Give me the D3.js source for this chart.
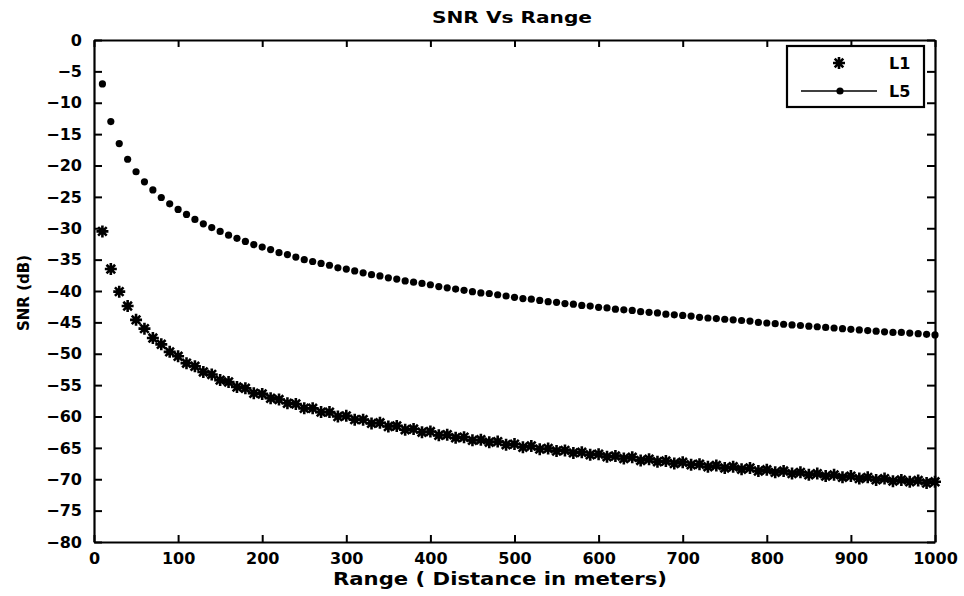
<!DOCTYPE html>
<html>
<head>
<meta charset="utf-8">
<script src="https://cdn.jsdelivr.net/npm/d3@7"></script>
<style>
  body { margin: 0; background: #fff; }
  text { font-family: "DejaVu Sans", sans-serif; font-weight: bold; fill: #000; }
</style>
</head>
<body>
<div id="chart"></div>
<script>
// Data arrays (range in meters, SNR in dB)
let rangeValues = d3.range(10, 1001, 10);

let snrL5 = [
  -7.0, -13.0, -16.5, -19.0, -21.0, -22.6, -23.9, -25.1, -26.1, -27.0,
  -27.8, -28.6, -29.3, -29.9, -30.5, -31.1, -31.6, -32.1, -32.6, -33.0,
  -33.4, -33.9, -34.2, -34.6, -35.0, -35.3, -35.6, -35.9, -36.3, -36.5,
  -36.8, -37.1, -37.4, -37.6, -37.9, -38.1, -38.4, -38.6, -38.8, -39.0,
  -39.3, -39.5, -39.7, -39.9, -40.1, -40.3, -40.4, -40.6, -40.8, -41.0,
  -41.2, -41.3, -41.5, -41.7, -41.8, -42.0, -42.1, -42.3, -42.4, -42.6,
  -42.7, -42.9, -43.0, -43.1, -43.3, -43.4, -43.5, -43.7, -43.8, -43.9,
  -44.0, -44.2, -44.3, -44.4, -44.5, -44.6, -44.7, -44.8, -45.0, -45.1,
  -45.2, -45.3, -45.4, -45.5, -45.6, -45.7, -45.8, -45.9, -46.0, -46.1,
  -46.2, -46.3, -46.4, -46.5, -46.6, -46.6, -46.7, -46.8, -46.9, -47.0
];

let snrL1 = [
  -30.5, -36.5, -40.1, -42.4, -44.6, -46.0, -47.5, -48.5, -49.7, -50.4,
  -51.5, -52.0, -52.9, -53.3, -54.2, -54.5, -55.3, -55.5, -56.3, -56.4,
  -57.1, -57.3, -57.9, -58.0, -58.7, -58.7, -59.3, -59.3, -60.0, -59.9,
  -60.5, -60.5, -61.1, -61.0, -61.6, -61.5, -62.1, -62.0, -62.5, -62.4,
  -63.0, -62.9, -63.4, -63.3, -63.8, -63.7, -64.1, -64.0, -64.5, -64.4,
  -64.9, -64.7, -65.2, -65.1, -65.5, -65.4, -65.8, -65.7, -66.1, -66.0,
  -66.4, -66.3, -66.7, -66.5, -67.0, -66.8, -67.2, -67.1, -67.5, -67.3,
  -67.7, -67.6, -68.0, -67.8, -68.2, -68.0, -68.4, -68.2, -68.7, -68.5,
  -68.9, -68.7, -69.1, -68.9, -69.3, -69.1, -69.5, -69.3, -69.7, -69.5,
  -69.9, -69.7, -70.1, -69.9, -70.3, -70.1, -70.4, -70.2, -70.6, -70.4
];

let seriesNames = ["L1", "L5"];
let xTicks = d3.range(0, 1001, 100);
let yTicks = d3.range(-80, 1, 5);

// svg attributes
let svgWidth = 964;
let svgHeight = 596;
let plot = { left: 94, right: 935, top: 40, bottom: 542 };

let svg = d3.select("#chart")
  .append("svg")
  .attr("width", svgWidth)
  .attr("height", svgHeight);

let xScale = d3.scaleLinear()
  .domain([0, 1000])
  .range([plot.left, plot.right]);

let yScale = d3.scaleLinear()
  .domain([-80, 0])
  .range([plot.bottom, plot.top]);

// axes: ticks point inward, box on all four sides
function styleAxis(g) {
  g.select(".domain").attr("stroke", "#000").attr("stroke-width", 2.2);
  g.selectAll(".tick line").attr("stroke", "#000").attr("stroke-width", 2);
  g.selectAll(".tick text")
    .style("font-family", "DejaVu Sans")
    .style("font-weight", "bold")
    .attr("font-size", 16)
    .attr("fill", "#000");
}

svg.append("g")
  .attr("transform", `translate(0,${plot.bottom})`)
  .call(d3.axisBottom(xScale).tickValues(xTicks).tickFormat(d3.format("d"))
    .tickSize(-7).tickSizeOuter(0).tickPadding(11))
  .call(styleAxis);

svg.append("g")
  .attr("transform", `translate(0,${plot.top})`)
  .call(d3.axisTop(xScale).tickValues(xTicks).tickSize(-7).tickSizeOuter(0).tickFormat(""))
  .call(styleAxis);

svg.append("g")
  .attr("transform", `translate(${plot.left},0)`)
  .call(d3.axisLeft(yScale).tickValues(yTicks).tickSize(-8).tickSizeOuter(0).tickPadding(12))
  .call(styleAxis);

svg.append("g")
  .attr("transform", `translate(${plot.right},0)`)
  .call(d3.axisRight(yScale).tickValues(yTicks).tickSize(-8).tickSizeOuter(0).tickFormat(""))
  .call(styleAxis);

// markers
let starPath = "M-6,0H6M0,-6V6M-4.3,-4.3L4.3,4.3M-4.3,4.3L4.3,-4.3";

svg.append("g")
  .selectAll("path")
  .data(snrL1)
  .enter()
  .append("path")
  .attr("d", starPath)
  .attr("transform", (d, i) => `translate(${xScale(rangeValues[i])},${yScale(d)})`)
  .attr("stroke", "#000")
  .attr("stroke-width", 2.6)
  .attr("fill", "none");

svg.append("g")
  .selectAll("circle")
  .data(snrL5)
  .enter()
  .append("circle")
  .attr("cx", (d, i) => xScale(rangeValues[i]))
  .attr("cy", d => yScale(d))
  .attr("r", 3.6)
  .attr("fill", "#000");

// title and axis labels
svg.append("text")
  .attr("x", 512).attr("y", 23)
  .attr("text-anchor", "middle")
  .attr("font-size", 16)
  .attr("textLength", 160)
  .attr("lengthAdjust", "spacingAndGlyphs")
  .text("SNR Vs Range");

svg.append("text")
  .attr("x", 500).attr("y", 585)
  .attr("text-anchor", "middle")
  .attr("font-size", 17)
  .attr("textLength", 334)
  .attr("lengthAdjust", "spacingAndGlyphs")
  .text("Range ( Distance in meters)");

svg.append("text")
  .attr("transform", "translate(29,293) rotate(-90)")
  .attr("text-anchor", "middle")
  .attr("font-size", 15)
  .text("SNR (dB)");

// legend
let legend = svg.append("g");
legend.append("rect")
  .attr("x", 787).attr("y", 46)
  .attr("width", 137).attr("height", 61)
  .attr("fill", "#fff")
  .attr("stroke", "#000")
  .attr("stroke-width", 2.2);

legend.append("path")
  .attr("d", starPath)
  .attr("transform", "translate(839,63)")
  .attr("stroke", "#000")
  .attr("stroke-width", 2.6);

legend.append("line")
  .attr("x1", 801).attr("x2", 877)
  .attr("y1", 91).attr("y2", 91)
  .attr("stroke", "#000")
  .attr("stroke-width", 1.5);

legend.append("circle")
  .attr("cx", 840).attr("cy", 91).attr("r", 3.6)
  .attr("fill", "#000");

legend.selectAll("text.lab")
  .data(seriesNames)
  .enter()
  .append("text")
  .attr("class", "lab")
  .attr("x", 889)
  .attr("y", (d, i) => 69 + i * 28)
  .attr("font-size", 16)
  .text(d => d);
</script>
</body>
</html>
